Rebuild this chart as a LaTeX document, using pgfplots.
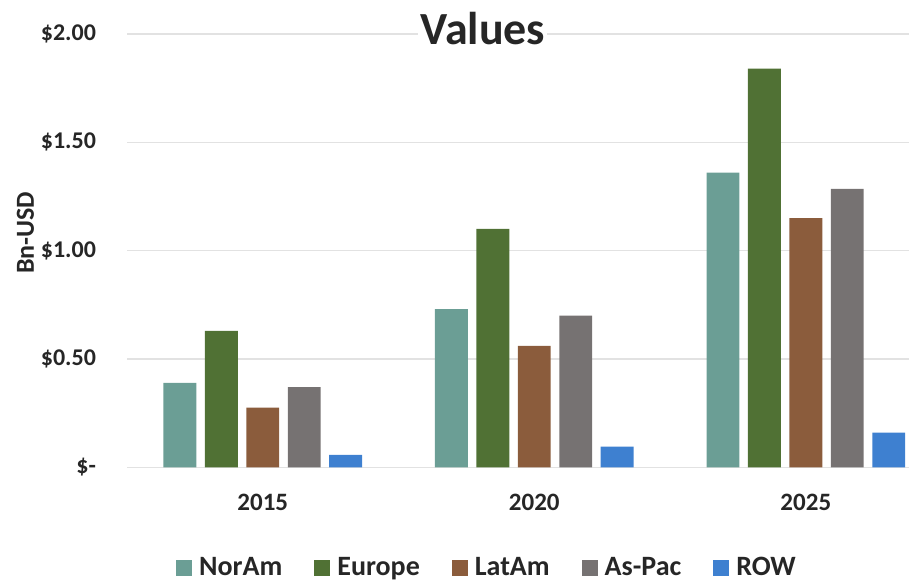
\documentclass[border=0pt]{standalone}
\usepackage{fontspec}
\setmainfont{Carlito}
\usepackage{pgfplots}
\pgfplotsset{compat=1.18}
\definecolor{cNor}{RGB}{107,158,149}
\definecolor{cEur}{RGB}{80,113,52}
\definecolor{cLat}{RGB}{139,92,60}
\definecolor{cAsp}{RGB}{118,114,114}
\definecolor{cRow}{RGB}{62,128,208}
\definecolor{gridc}{RGB}{226,226,226}
\definecolor{txt}{RGB}{38,38,38}
\begin{document}
\begin{tikzpicture}
\begin{axis}[
  at={(63.5pt,56.35pt)}, anchor=south west,
  scale only axis, width=391pt, height=216.65pt,
  xmin=-0.5, xmax=2.38, ymin=0, ymax=2,
  axis line style={draw=none},
  major tick length=0pt,
  ymajorgrids, grid style={color=gridc, line width=0.8pt},
  xtick={0,1,2}, xticklabels={2015,2020,2025},
  ytick={0,0.5,1,1.5,2},
  yticklabels={\$-\hspace{6pt},\$0.50,\$1.00,\$1.50,\$2.00},
  xticklabel style={font=\fontsize{12.5}{15}\selectfont\bfseries, text=txt, yshift=-10pt},
  yticklabel style={font=\fontsize{12}{14}\selectfont\bfseries, text=txt, xshift=-12pt},
  title={Values},
  title style={font=\fontsize{23}{27}\selectfont\bfseries, text=txt, fill=white, inner sep=1pt, at={(axis description cs:0.455,0.985)}, anchor=center},
  ylabel={Bn-USD},
  ylabel style={font=\fontsize{13}{15}\selectfont\bfseries, text=txt, at={(axis description cs:-0.130,0.541)}, anchor=center},
  legend image code/.code={\fill[#1] (0pt,-4pt) rectangle (8pt,4pt);},
  legend style={at={(axis description cs:0.4616,-0.232)}, anchor=center, draw=none, fill=none,
    legend columns=5, font=\fontsize{14}{16}\selectfont\bfseries, text=txt,
    /tikz/every even column/.append style={column sep=14pt},
    /tikz/every odd column/.append style={column sep=1.5pt}},
  legend cell align=left,
]
\addplot[ybar, bar width=0.121, bar shift=-0.3052, fill=cNor, draw=none] coordinates {(0,0.39) (1,0.73) (2,1.36)};
\addlegendentry{NorAm}
\addplot[ybar, bar width=0.121, bar shift=-0.1526, fill=cEur, draw=none] coordinates {(0,0.63) (1,1.10) (2,1.84)};
\addlegendentry{Europe}
\addplot[ybar, bar width=0.121, bar shift=0, fill=cLat, draw=none] coordinates {(0,0.275) (1,0.56) (2,1.15)};
\addlegendentry{LatAm}
\addplot[ybar, bar width=0.121, bar shift=0.1526, fill=cAsp, draw=none] coordinates {(0,0.37) (1,0.70) (2,1.285)};
\addlegendentry{As-Pac}
\addplot[ybar, bar width=0.121, bar shift=0.3052, fill=cRow, draw=none] coordinates {(0,0.057) (1,0.095) (2,0.16)};
\addlegendentry{ROW}
\end{axis}
\pgfresetboundingbox
\path[use as bounding box] (0pt,0pt) rectangle (454.5pt,290pt);
\end{tikzpicture}
\end{document}
